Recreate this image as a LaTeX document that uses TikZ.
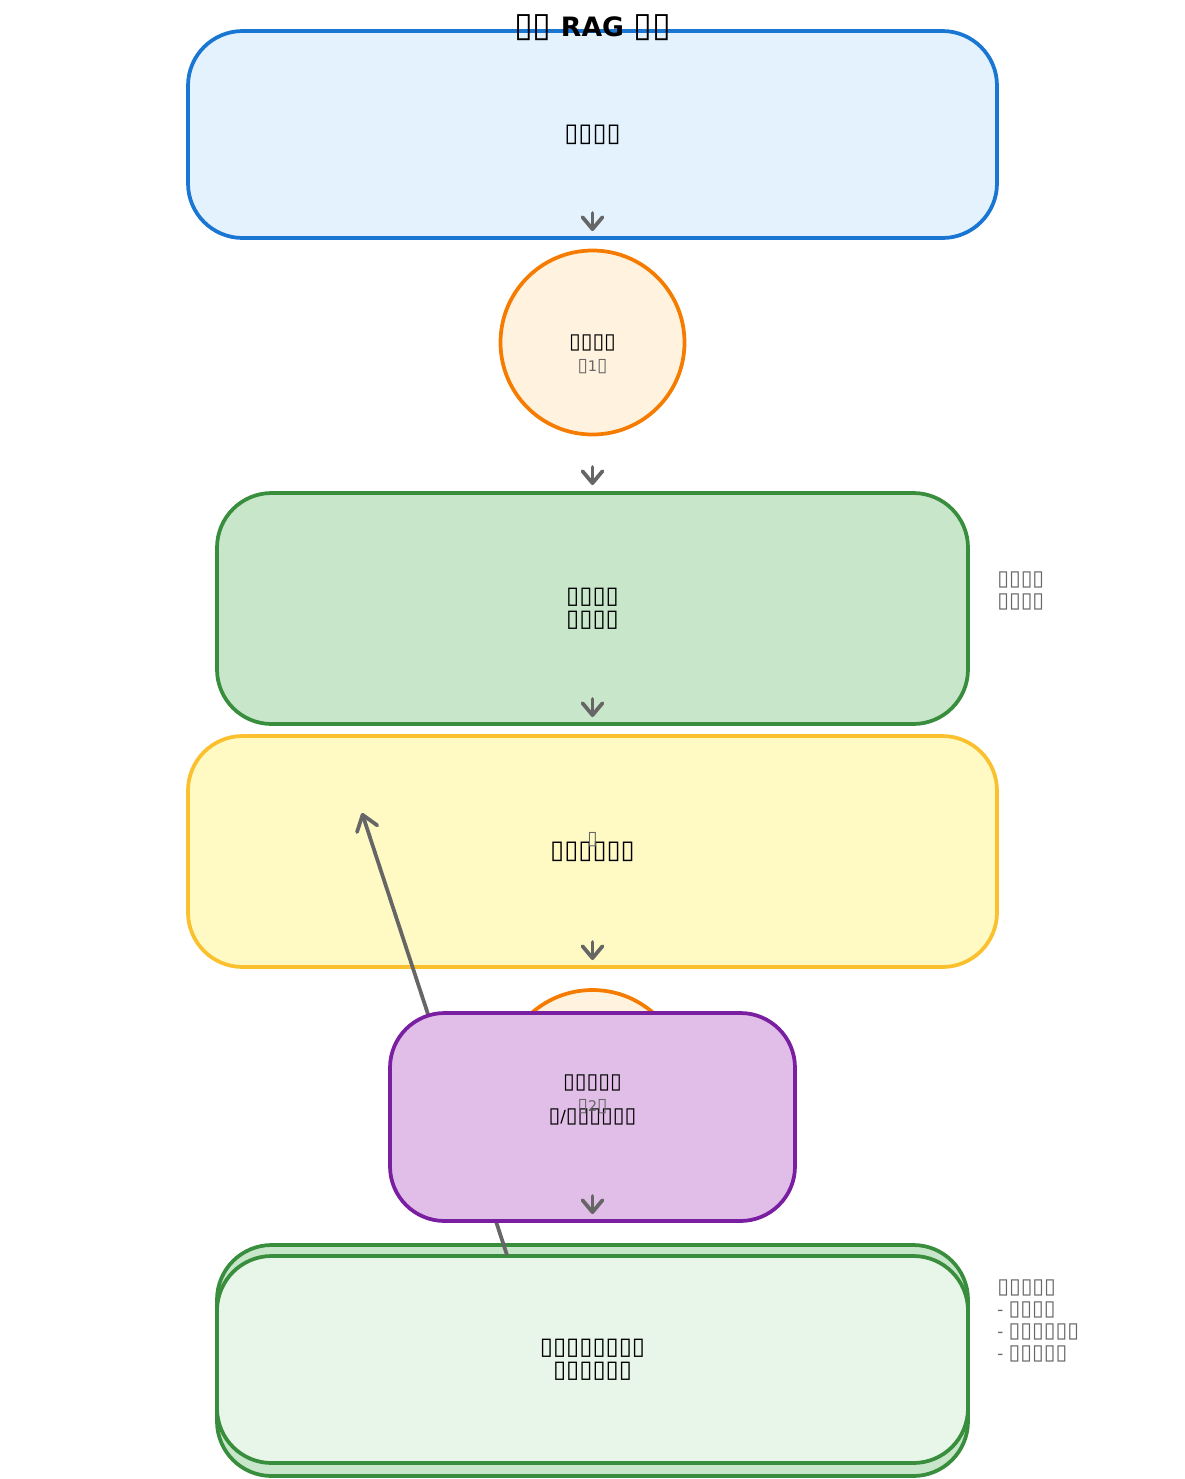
\documentclass[tikz,border=0pt]{standalone}
\usepackage{fontspec}
\usepackage{graphicx}
\setmainfont{DejaVu Sans}
\usetikzlibrary{arrows.meta}
\definecolor{bluefill}{HTML}{E3F2FD}
\definecolor{bluedraw}{HTML}{1976D2}
\definecolor{orfill}{HTML}{FFF3E0}
\definecolor{ordraw}{HTML}{F57C00}
\definecolor{grfill}{HTML}{C8E6C9}
\definecolor{grlight}{HTML}{E8F5E9}
\definecolor{grdraw}{HTML}{388E3C}
\definecolor{yefill}{HTML}{FFF9C4}
\definecolor{yedraw}{HTML}{FBC02D}
\definecolor{pufill}{HTML}{E1BEE7}
\definecolor{pudraw}{HTML}{7B1FA2}
\definecolor{edgegray}{HTML}{666666}
\newcommand{\tofu}{\scalebox{1.28}{▯}}
\tikzset{
  box/.style={rectangle, rounded corners=41pt, line width=2.8pt, inner sep=0pt, align=center,
    font=\fontsize{15}{17.25}\selectfont},
  circ/.style={circle, line width=2.8pt, inner sep=0pt, minimum size=138pt, fill=orfill, draw=ordraw},
  arr/.style={draw=edgegray, line width=2.8pt, line cap=round,
    -{Straight Barb[length=9pt, width=15pt, line width=2.8pt, round]}},
  note/.style={text=edgegray, align=left, anchor=north west, inner sep=0pt,
    font=\fontsize{12.5}{16.5}\selectfont},
  sub/.style={text=edgegray, inner sep=0pt, font=\fontsize{11}{13}\selectfont},
  lab/.style={inner sep=0pt, font=\fontsize{12.5}{15}\selectfont}
}
\begin{document}
\begin{tikzpicture}[x=0.75pt, y=-0.75pt]
\useasboundingbox (0,0) rectangle (1185,1479);
% top box
\node[box, fill=bluefill, draw=bluedraw, minimum width=606.75pt, minimum height=155.25pt] (b1) at (592.5,134.5) {\tofu\tofu\tofu\tofu};
\node[font=\bfseries\fontsize{20}{24}\selectfont, inner sep=0pt] (title) at (592.5,28) {\tofu\tofu{} RAG \tofu\tofu};
% circle 1
\node[circ] (c1) at (592.5,342.5) {};
\node[lab] (c1t) at (592.5,343) {\tofu\tofu\tofu\tofu};
\node[sub] (c1s) at (592.5,367) {\tofu1\tofu};
% green box
\node[box, fill=grfill, draw=grdraw, minimum width=563.25pt, minimum height=173.25pt, font=\fontsize{14}{17.25}\selectfont] (b2) at (592.5,608.5) {\tofu\tofu\tofu\tofu\\\tofu\tofu\tofu\tofu};
\node[note] (n1) at (997,572) {\tofu\tofu\tofu\tofu\\\tofu\tofu\tofu\tofu};
% yellow box
\node[box, fill=yefill, draw=yedraw, minimum width=606.75pt, minimum height=173.25pt] (b3) at (592.5,851.5) {\tofu\tofu\tofu\tofu\tofu\tofu};
\node[sub] (el) at (592.5,840) {\tofu};
% chevrons
\coordinate (a1s) at (592.5,213); \coordinate (a1e) at (592.5,231);
\coordinate (a2s) at (592.5,467); \coordinate (a2e) at (592.5,485);
\coordinate (a3s) at (592.5,699); \coordinate (a3e) at (592.5,717);
\coordinate (a4s) at (592.5,942); \coordinate (a4e) at (592.5,960);
\coordinate (a5s) at (592.5,1196); \coordinate (a5e) at (592.5,1214);
\draw[arr] (a1s) -- (a1e);
\draw[arr] (a2s) -- (a2e);
\draw[arr] (a3s) -- (a3e);
\draw[arr] (a4s) -- (a4e);
% bottom boxes
\node[box, fill=grfill, draw=grdraw, minimum width=563.25pt, minimum height=173.25pt, font=\fontsize{14}{17.25}\selectfont] (b5o) at (592.5,1360.5) {\tofu\tofu\tofu\tofu\tofu\tofu\tofu\tofu\\\tofu\tofu\tofu\tofu\tofu\tofu};
\node[box, fill=grlight, draw=grdraw, minimum width=563.25pt, minimum height=155.25pt, font=\fontsize{14}{17.25}\selectfont] (b5) at (592.5,1359.5) {\tofu\tofu\tofu\tofu\tofu\tofu\tofu\tofu\\\tofu\tofu\tofu\tofu\tofu\tofu};
\node[note] (n2) at (997,1280) {\tofu\tofu\tofu\tofu\tofu\\- \tofu\tofu\tofu\tofu\\- \tofu\tofu\tofu\tofu\tofu\tofu\\- \tofu\tofu\tofu\tofu\tofu};
% loop-back arrow
\coordinate (la) at (362,813);
\coordinate (lb) at (507,1255);
\draw[draw=edgegray, line width=2.8pt, -{Straight Barb[length=11pt, width=16pt, line width=2.8pt, round]}] (lb) -- (la);
% circle 2 and purple box
\node[circ] (c2) at (592.5,1082) {};
\node[box, fill=pufill, draw=pudraw, minimum width=303.75pt, minimum height=156pt, font=\fontsize{12.5}{15}\selectfont] (b4) at (592.5,1117) {\tofu/\tofu\tofu\tofu\tofu\tofu\tofu};
\node[lab] (c2t) at (592.5,1083) {\tofu\tofu\tofu\tofu\tofu};
\node[sub] (c2s) at (592.5,1107) {\tofu2\tofu};
\draw[arr] (a5s) -- (a5e);
\end{tikzpicture}
\end{document}
